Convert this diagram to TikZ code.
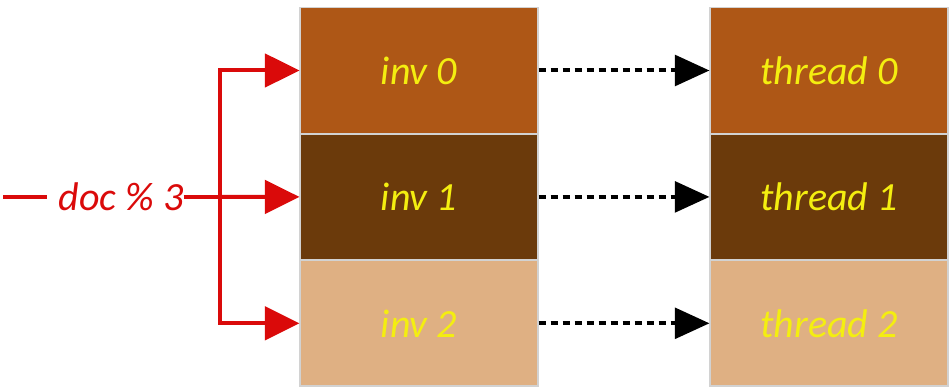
\documentclass[tikz,border=0pt]{standalone}
\usepackage{fontspec}
\setmainfont{Carlito}
\usetikzlibrary{positioning,arrows.meta}
\definecolor{rowA}{HTML}{AE5716}
\definecolor{rowB}{HTML}{6B3A0B}
\definecolor{rowC}{HTML}{DFB083}
\definecolor{labelyellow}{HTML}{F4EE10}
\definecolor{splitred}{HTML}{DA0A0A}
\tikzset{
  cell/.style={draw=gray!35, line width=0.8pt, minimum width=178.5pt, minimum height=94pt,
    inner sep=0pt, font=\fontsize{30}{36}\selectfont\itshape, text=labelyellow},
  splitarrow/.style={-{Triangle[length=26pt, width=25pt]}, line width=3pt, draw=splitred},
  splitline/.style={line width=3pt, draw=splitred},
  passarrow/.style={-{Triangle[length=26pt, width=23pt]}, line width=3pt,
    dash pattern=on 5.5pt off 3.5pt}
}
\begin{document}
\begin{tikzpicture}[x=0.75pt, y=-0.75pt]
  \useasboundingbox (0,0) rectangle (952,391);
  % invocation column
  \node[cell, fill=rowA] (inv0) at (419,70.5) {inv 0};
  \node[cell, fill=rowB, below=0pt of inv0] (inv1) {inv 1};
  \node[cell, fill=rowC, below=0pt of inv1] (inv2) {inv 2};
  % thread column
  \node[cell, fill=rowA] (thr0) at (829,70.5) {thread 0};
  \node[cell, fill=rowB, below=0pt of thr0] (thr1) {thread 1};
  \node[cell, fill=rowC, below=0pt of thr1] (thr2) {thread 2};
  % dispatch by doc % 3
  \node[inner sep=0pt, text=splitred, font=\fontsize{30}{36}\selectfont\itshape] (doc) at (121,197) {doc \% 3};
  \coordinate (in) at (3,197);
  \coordinate (split) at (220,197);
  \draw[splitline] (in) -- ++(44,0);
  \draw[splitline] (doc.east) -- (split);
  \draw[splitarrow] (split) |- (inv0.west);
  \draw[splitarrow] (split) -- (inv1.west);
  \draw[splitarrow] (split) |- (inv2.west);
  \foreach \i in {0,1,2}
    \draw[passarrow] (inv\i.east) -- (thr\i.west);
\end{tikzpicture}
\end{document}
